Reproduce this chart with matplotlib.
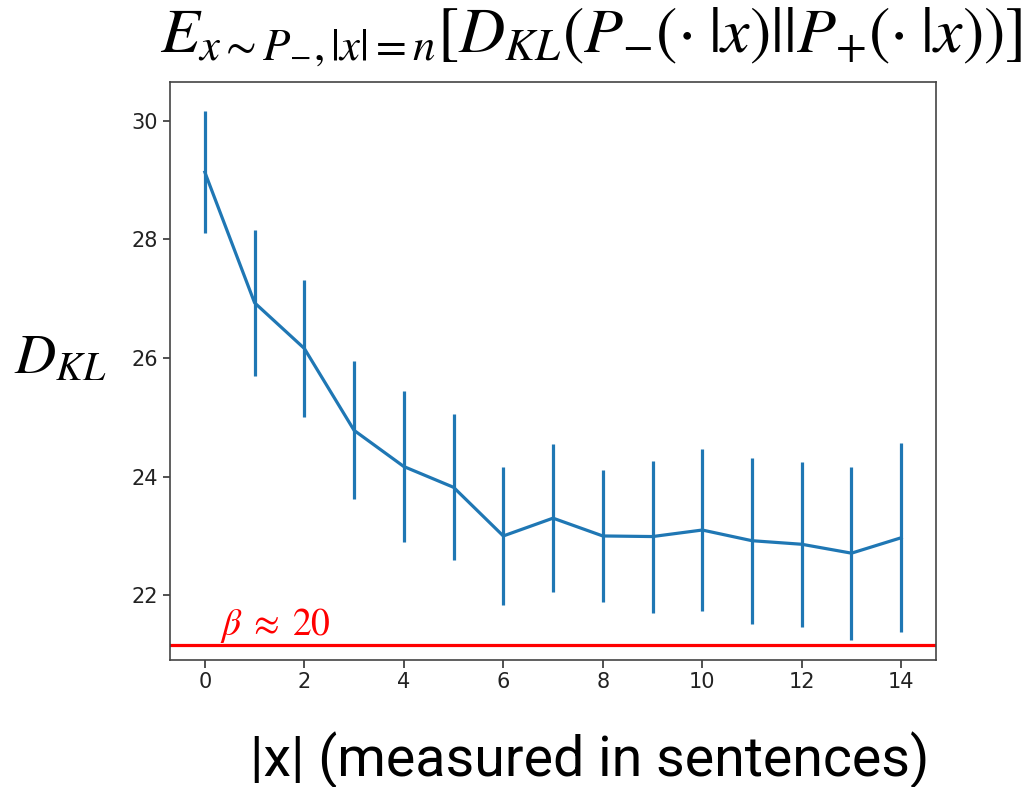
import numpy as np
import matplotlib
matplotlib.use('Agg')
import matplotlib.pyplot as plt

# sentence length |x| and measured KL (mean, std)
lengths = list(range(15))
kl_mean = [29.13, 26.93, 26.16, 24.78, 24.17, 23.82, 23.00, 23.30,
           23.00, 22.99, 23.10, 22.92, 22.86, 22.71, 22.97]
kl_err = [1.03, 1.23, 1.15, 1.16, 1.28, 1.23, 1.16, 1.25,
          1.11, 1.28, 1.36, 1.40, 1.39, 1.46, 1.59]
beta_line = 21.17

plt.rcParams['mathtext.fontset'] = 'stix'

fig = plt.figure(figsize=(10.31, 7.87), dpi=100)
ax = fig.add_axes([0.1649, 0.1614, 0.743, 0.7344])

ax.errorbar(lengths, kl_mean, yerr=kl_err, color='#1f77b4', lw=2.3, elinewidth=2.3)
ax.axhline(beta_line, color='red', lw=2.3)
ax.text(0.3, 21.33, r'$\beta\;\approx\;20$', color='red', fontsize=27)

ax.set_xlim(-0.7, 14.7)
ax.set_ylim(20.91, 30.65)
ax.set_xticks(range(0, 15, 2))
ax.set_yticks(range(22, 31, 2))
ax.tick_params(labelsize=15, length=5.4, width=1.2, colors='#333333', labelcolor='#222222')
for s in ax.spines.values():
    s.set_linewidth(1.2)
    s.set_color('#444444')

fig.text(0.573, 0.952, r'$E_{x\sim P_{-},|x|=n}[D_{KL}(P_{-}(\cdot\;|x)||P_{+}(\cdot\;|x))]$',
         ha='center', va='center', fontsize=46)
fig.text(0.058, 0.545, r'$D_{KL}$', ha='center', va='center', fontsize=41)
fig.text(0.572, 0.034, '|x| (measured in sentences)', ha='center', va='center',
         fontsize=40, family='Roboto')

fig.savefig('out.png', dpi=100)
